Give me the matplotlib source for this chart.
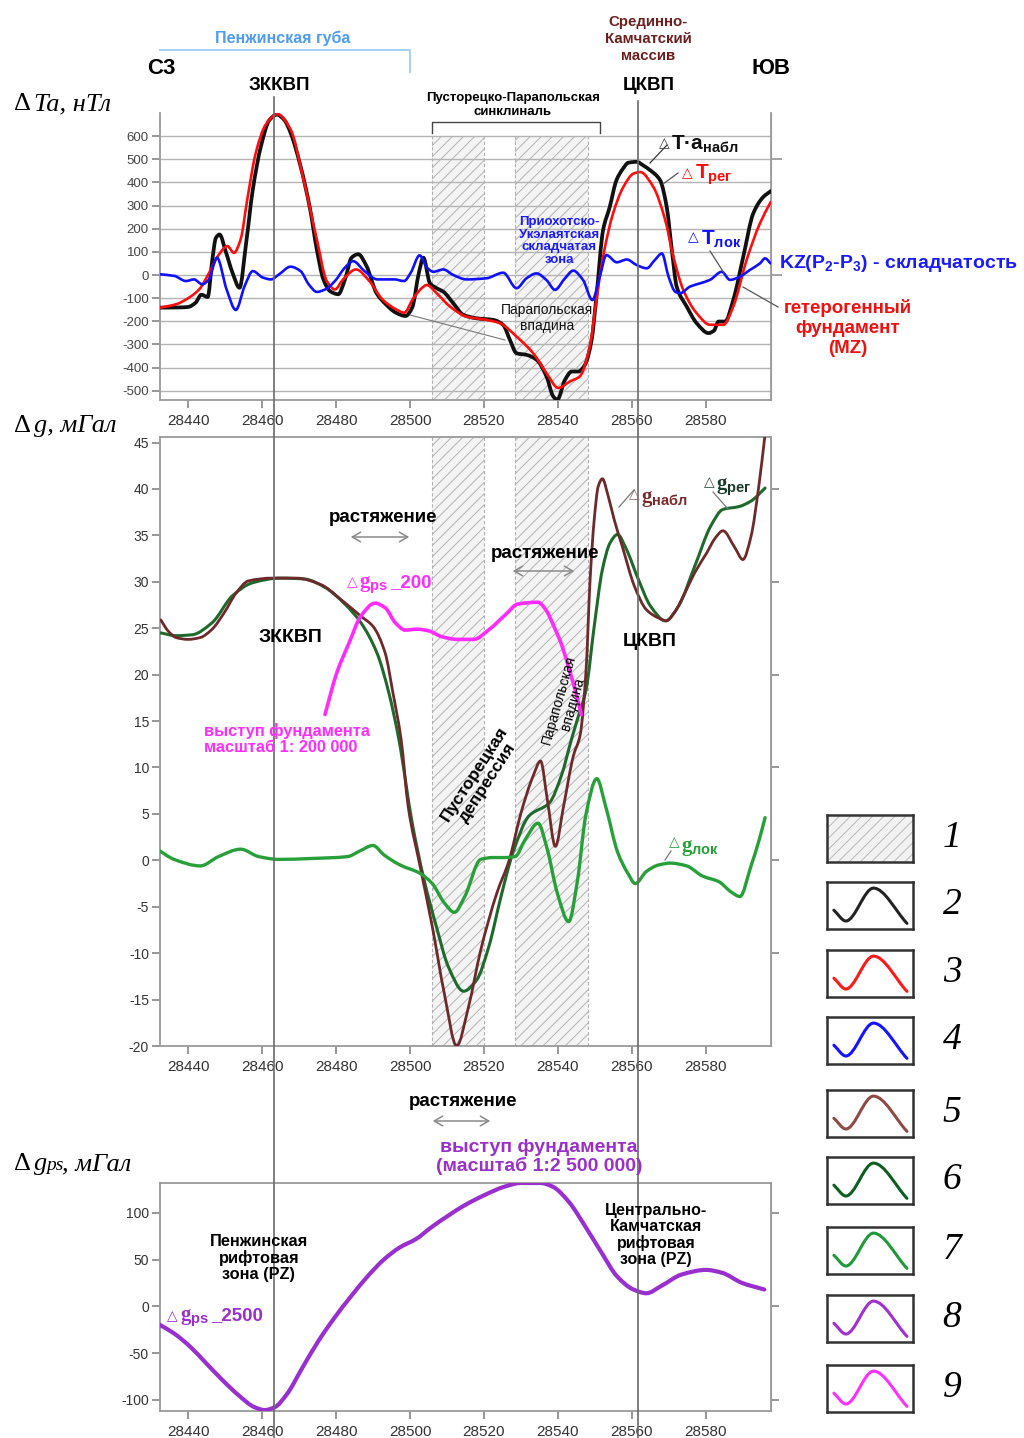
import numpy as np
import matplotlib
matplotlib.use("Agg")
import matplotlib.pyplot as plt
from matplotlib.patches import Rectangle, PathPatch, FancyArrowPatch
from matplotlib.path import Path
from matplotlib.lines import Line2D
import matplotlib.transforms as mtransforms

plt.rcParams['font.family'] = ['Liberation Sans', 'DejaVu Sans']
plt.rcParams['axes.unicode_minus'] = False
plt.rcParams['mathtext.fontset'] = 'custom'
plt.rcParams['mathtext.rm'] = 'Liberation Sans:bold'
plt.rcParams['mathtext.bf'] = 'Liberation Sans:bold'
plt.rcParams['mathtext.it'] = 'Liberation Sans:bold'
plt.rcParams['mathtext.default'] = 'rm'
plt.rcParams['hatch.linewidth'] = 0.7

# ---------------- profile data (picket numbers) ----------------
XTICKS = [28440, 28460, 28480, 28500, 28520, 28540, 28560, 28580]
XLIM = (28432.4, 28597.6)
ZKKVP = 28463.2          # Western Kamchatka volcanic belt axis
TsKVP = 28561.7          # Central Kamchatka volcanic belt axis
BANDS = [(28506.0, 28520.0), (28528.5, 28548.2)]

# magnetic field, nT
mag_obs_x = [28432.5, 28437.7, 28440, 28442, 28443.6, 28445.3, 28446.5, 28447.5, 28448.5, 28450.2,
             28452, 28453.9, 28455.7, 28457.5, 28459.7, 28462, 28464, 28466, 28467.7, 28470.4,
             28473, 28474.8, 28476.6, 28478.4, 28480.6, 28482.4, 28484.2, 28486, 28488.2, 28490.9,
             28493.5, 28496.2, 28498.8, 28500.6, 28502.4, 28503.6, 28505.4, 28507.2, 28509, 28511.7,
             28514.4, 28518, 28522.5, 28525.2, 28527, 28528.8, 28531.5, 28534.2, 28536.9, 28538.7,
             28539.8, 28541.9, 28543.7, 28545.5, 28547.3, 28549.1, 28550.4, 28552.2, 28554, 28555.8,
             28557.6, 28559, 28561.3, 28563, 28564.9, 28567.6, 28569.4, 28570.8, 28572.1, 28574.8,
             28577.5, 28580.7, 28582.2, 28583.4, 28585.2, 28587.4, 28590.1, 28592.8, 28595.5, 28597.5]
mag_obs = [-141, -140, -138, -120, -85, -95, 60, 160, 175, 100,
           10, -55, 140, 370, 557, 670, 693, 670, 615, 470,
           283, 110, -20, -70, -83, -20, 75, 90, 40, -77,
           -127, -163, -177, -140, 10, 75, -36, -57, -72, -122,
           -172, -187, -194, -216, -280, -338, -345, -366, -438, -524,
           -539, -453, -417, -417, -388, -280, -93, 194, 294, 409,
           460, 485, 489, 474, 453, 410, 294, 107, -50, -136,
           -208, -251, -240, -201, -201, -108, 79, 266, 337, 362]

mag_reg_x = [28432.5, 28437, 28439.5, 28443, 28445.7, 28448.4, 28450.6, 28452.4, 28454.2, 28456,
             28458.3, 28461, 28464.1, 28467.7, 28471.2, 28474.8, 28477.5, 28479.7, 28481.9, 28485.4,
             28489, 28492.5, 28496.2, 28498.4, 28500.9, 28503.3, 28504.5, 28507.2, 28510.8, 28515.3,
             28520.7, 28524.3, 28528.8, 28533.3, 28536.9, 28540.1, 28543.2, 28545.9, 28548.6, 28550.4,
             28552.2, 28554.9, 28557.7, 28560.4, 28562.2, 28565.8, 28569, 28571.2, 28573.9, 28577.5,
             28581.1, 28584.7, 28587.4, 28591, 28594.6, 28597.5]
mag_reg = [-141, -125, -105, -62, 10, 90, 125, 96, 154, 327,
           528, 650, 695, 629, 413, 154, -26, -62, -19, 24,
           -26, -105, -148, -163, -100, -55, -43, -79, -136, -180,
           -194, -208, -266, -338, -424, -488, -460, -438, -309, -108,
           79, 266, 381, 438, 445, 380, 237, 79, -65, -165,
           -215, -215, -136, 65, 223, 315]

mag_loc_x = [28432.5, 28436.3, 28439.4, 28441.6, 28443.8, 28445.6, 28447.8, 28450.4, 28452.9, 28455.3,
             28457.5, 28460.2, 28462.4, 28464.6, 28467.7, 28470.4, 28472.6, 28474.8, 28477.1, 28479.7,
             28482.4, 28484.6, 28487.7, 28491.2, 28495.7, 28498.4, 28500.2, 28502.6, 28504.6, 28506.3,
             28509, 28511.7, 28515.3, 28520.7, 28525.2, 28528.8, 28531.5, 28534.2, 28536.9, 28539.2,
             28541.9, 28544.1, 28546.8, 28549.3, 28551.3, 28553.1, 28555.9, 28558.6, 28561.3, 28564,
             28566.2, 28568.1, 28569.9, 28571.7, 28573, 28575.7, 28578.4, 28581.1, 28584.3, 28586.5,
             28589.2, 28591.9, 28594.6, 28596, 28597.5]
mag_loc = [3, -4, -26, -19, -40, -20, 75, -62, -151, -47,
           17, -11, -19, 3, 36, 17, -40, -73, -62, -26,
           32, 60, 17, -19, -19, -26, 10, 85, 32, 14,
           24, 0, -19, -14, 10, -57, -14, 7, -22, -64,
           -14, 19, -22, -108, -7, 86, 55, 67, 43, 29,
           65, 93, -7, -72, -79, -50, -36, -21, 14, -21,
           -7, 22, 50, 72, 50]

# gravity, mGal
grav_obs_x = [28432.6, 28434.6, 28436.7, 28440, 28443.3, 28446.5, 28449.8, 28453, 28456.3, 28462.8,
              28469.3, 28475.9, 28481.3, 28486.7, 28490, 28493.3, 28495.4, 28497.6, 28499.5, 28502.7,
              28506, 28509.3, 28512.6, 28515.8, 28519.1, 28523.5, 28526.8, 28530, 28533.3, 28535.3,
              28537.1, 28539.3, 28541.5, 28544.2, 28546, 28547.6, 28548.7, 28549.8, 28550.9, 28552,
              28553.6, 28555.2, 28557.4, 28560.7, 28563.9, 28567.2, 28569.3, 28571.5, 28574.8, 28577,
              28580.2, 28582.5, 28584.6, 28587.8, 28590, 28592.2, 28594.3, 28596]
grav_obs = [25.9, 24.7, 24.0, 23.8, 24.0, 24.9, 26.7, 28.8, 30.1, 30.4,
            30.4, 29.7, 28.1, 26.3, 25.2, 22.3, 18.0, 13.0, 5.8, -0.6,
            -7.1, -14.4, -20.0, -15.8, -9.7, -3.5, 0.0, 5.1, 9.1, 10.7,
            6.6, 1.5, 5.8, 11.3, 13.5, 20.5, 30.3, 36.7, 40.3, 41.1,
            39.2, 36.7, 33.8, 29.5, 27.0, 26.1, 25.8, 26.7, 29.2, 31.0,
            33.1, 34.7, 35.5, 33.7, 32.4, 34.9, 40.3, 45.9]

grav_reg_x = [28432.6, 28436.7, 28441.1, 28446.5, 28452, 28457.4, 28465, 28471.5, 28477, 28482.4,
              28486.7, 28491.1, 28494.3, 28497, 28500.6, 28503.8, 28507.1, 28510.4, 28514.5, 28518,
              28521.3, 28524.6, 28527.8, 28532.2, 28537.7, 28540.9, 28543.7, 28545.5, 28547.6, 28549.8,
              28552, 28554.1, 28556.1, 28558.5, 28561.7, 28565, 28569.1, 28572.6, 28577, 28581.3,
              28584.6, 28588.9, 28592.2, 28596]
grav_reg = [24.5, 24.2, 24.3, 25.6, 28.5, 29.9, 30.4, 30.3, 29.4, 27.6,
            25.6, 22.3, 18.0, 13.0, 4.0, -2.1, -7.1, -11.5, -14.1, -12.9,
            -9.3, -3.9, 0.8, 4.8, 6.2, 9.1, 13.1, 15.5, 18.4, 25.2,
            31.3, 34.2, 35.1, 33.5, 30.3, 27.4, 25.8, 27.4, 31.7, 36.0,
            37.8, 38.1, 38.7, 40.1]

grav_loc_x = [28432, 28436.2, 28443.3, 28448.2, 28454.2, 28459.1, 28464.6, 28473.3, 28483.1, 28486.4,
              28490, 28492.9, 28497.3, 28502.7, 28506, 28509.3, 28512, 28514.8, 28519.1, 28522.4,
              28525.7, 28528.4, 28531.1, 28534.6, 28537.1, 28539.8, 28542.9, 28545.3, 28547.5, 28550.5,
              28552.9, 28556.2, 28558.9, 28560.9, 28563.9, 28567.2, 28570.4, 28574.8, 28579.1, 28583.5,
              28586.8, 28589.2, 28592.2, 28594.4, 28596]
grav_loc = [1.1, 0.1, -0.6, 0.4, 1.2, 0.4, 0.1, 0.2, 0.4, 1.0,
            1.6, 0.6, -0.5, -1.4, -2.5, -4.6, -5.6, -3.9, 0.1, 0.3,
            0.3, 0.4, 2.2, 4.0, 1.2, -3.5, -6.6, -2.1, 4.8, 8.8,
            5.8, 0.8, -1.4, -2.5, -1.2, -0.5, -0.3, -0.6, -1.7, -2.3,
            -3.4, -3.9, -0.6, 2.2, 4.6]

gps200_x = [28477, 28480.2, 28483.5, 28486.7, 28490.5, 28493.3, 28496, 28498.7, 28502, 28505.2,
            28508.5, 28512.8, 28517.2, 28521.5, 28525.9, 28529.1, 28534.6, 28536.7, 28538.9, 28541.1,
            28543.3, 28544.9, 28546.3]
gps200 = [15.7, 20.2, 23.4, 26.3, 27.7, 27.2, 25.6, 24.8, 24.9, 24.7,
          24.1, 23.8, 23.8, 24.9, 26.5, 27.6, 27.8, 27.0, 25.2, 23.1,
          20.2, 18.0, 15.7]

gps2500_x = [28432, 28436.2, 28440.5, 28444.9, 28449.3, 28453.6, 28458, 28460.7, 28463.4, 28466.7,
             28471, 28475.4, 28479.8, 28484.1, 28488.5, 28492.9, 28497.2, 28501.6, 28505.9, 28510.3,
             28514.7, 28520.1, 28525.5, 28529.9, 28535.3, 28538.6, 28542.9, 28547.3, 28551.7, 28556,
             28560.4, 28563.9, 28568, 28573.4, 28580, 28584.3, 28589.8, 28595.8]
gps2500 = [-19, -29, -43, -61, -79, -95, -108, -111, -108, -94,
           -65, -36, -11, 11, 32, 50, 63, 72, 85, 97,
           108, 119, 128, 132, 132, 128, 112, 86, 58, 32,
           18, 14, 22, 34, 39, 36, 25, 18]

# legend items
LEGEND_NUMS = ['1', '2', '3', '4', '5', '6', '7', '8', '9']
LEGEND_COLORS = [None, '#222222', '#ff1a1a', '#1414ff', '#8e4a44', '#0d5e1f', '#1f9a3a', '#a030d0', '#ff30ff']
ICON_X = [0.08, 0.22, 0.54, 0.93]
ICON_Y = [0.40, 0.17, 0.87, 0.12]

C_OBS, C_REG, C_LOC = '#111111', '#ff0d0d', '#1010ff'
C_GOBS, C_GREG, C_GLOC = '#6e2a2a', '#1d6a2c', '#27a03a'
C_P200, C_P2500 = '#ff2bff', '#9a2fd0'


def smooth_path(xs, ys):
    """Monotone cubic (PCHIP-type) Bezier path passing through every point."""
    x = np.asarray(xs, float)
    y = np.asarray(ys, float)
    h = np.diff(x)
    d = np.diff(y) / h
    m = np.zeros_like(y)
    m[0], m[-1] = d[0], d[-1]
    for i in range(1, len(x) - 1):
        if d[i - 1] * d[i] > 0:
            w1 = 2 * h[i] + h[i - 1]
            w2 = h[i] + 2 * h[i - 1]
            m[i] = (w1 + w2) / (w1 / d[i - 1] + w2 / d[i])
    verts = [(x[0], y[0])]
    codes = [Path.MOVETO]
    for i in range(len(x) - 1):
        verts += [(x[i] + h[i] / 3, y[i] + m[i] * h[i] / 3),
                  (x[i + 1] - h[i] / 3, y[i + 1] - m[i + 1] * h[i] / 3),
                  (x[i + 1], y[i + 1])]
        codes += [Path.CURVE4] * 3
    return Path(verts, codes)


def curve(ax, xs, ys, color, lw, z):
    ax.add_patch(PathPatch(smooth_path(xs, ys), facecolor='none', edgecolor=color, lw=lw,
                           zorder=z, joinstyle='round', capstyle='round'))


# ---------------- figure ----------------
W, H = 1024, 1438
fig = plt.figure(figsize=(W / 100, H / 100), dpi=100)


def fx(px):
    return px / W


def fy(py):
    return 1 - py / H


def rect(l, t, r, b):
    return [l / W, 1 - b / H, (r - l) / W, (b - t) / H]


def T(px, py, s, **kw):
    kw.setdefault('ha', 'center')
    kw.setdefault('va', 'center')
    return fig.text(fx(px), fy(py), s, **kw)


def pline(pts, color='#555555', lw=0.9):
    fig.add_artist(Line2D([fx(p[0]) for p in pts], [fy(p[1]) for p in pts],
                          transform=fig.transFigure, color=color, lw=lw))


def tri(px, py, color, size=9):
    T(px, py, '△', color=color, size=size, family=['DejaVu Sans'])


def arrow(x0, x1, py):
    fig.add_artist(FancyArrowPatch((fx(x0), fy(py)), (fx(x1), fy(py)), transform=fig.transFigure,
                                   arrowstyle='<->,head_length=6,head_width=3.5', color='#8a8a8a',
                                   lw=1.1, zorder=10))


ax1 = fig.add_axes(rect(160, 113, 771, 400))
ax2 = fig.add_axes(rect(160, 437, 771, 1046))
ax3 = fig.add_axes(rect(160, 1183, 771, 1411))

for ax in (ax1, ax2, ax3):
    ax.set_xlim(XLIM)
    ax.set_xticks(XTICKS)
    ax.tick_params(axis='both', direction='out', color='#7a7a7a', length=6, width=1.1,
                   labelcolor='#333333')
    ax.tick_params(axis='x', labelsize=11, pad=4)
    ax.tick_params(axis='y', labelsize=10, pad=2)
    for s in ax.spines.values():
        s.set_color('#9a9a9a')
        s.set_linewidth(1.3)

# ---- magnetic panel ----
ax1.set_ylim(-540, 700)
ax1.set_yticks(list(range(-500, 700, 100)))
ax1.tick_params(axis='y', labelsize=9.5, labelcolor='#444444')
ax1.spines['top'].set_visible(False)
for v in range(-500, 700, 100):
    ax1.axhline(v, color='#b4b4b4', lw=1.0, zorder=0.8)
for x0, x1 in BANDS:
    ax1.add_patch(Rectangle((x0, -540), x1 - x0, 600 + 540, facecolor='#f4f4f4',
                            edgecolor='#b3b3b3', hatch='///', lw=0, zorder=0.5))
    ax1.vlines([x0, x1], -540, 600, colors='#b0b0b0', linestyles=(0, (3, 2)), lw=0.8, zorder=0.6)
curve(ax1, mag_obs_x, mag_obs, C_OBS, 2.7, 3)
curve(ax1, mag_reg_x, mag_reg, C_REG, 1.9, 4)
curve(ax1, mag_loc_x, mag_loc, C_LOC, 1.9, 5)
sec1 = ax1.secondary_yaxis('right')
sec1.set_yticks([0, 500])
sec1.set_yticklabels([])
sec1.tick_params(direction='out', color='#8a8a8a', length=8, width=1.1)
sec1.spines['right'].set_color('#9a9a9a')

# ---- gravity panel ----
ax2.set_ylim(-20, 45.6)
ax2.set_yticks(list(range(-20, 50, 5)))
for x0, x1 in BANDS:
    ax2.add_patch(Rectangle((x0, -20), x1 - x0, 65.6, facecolor='#f4f4f4',
                            edgecolor='#b3b3b3', hatch='///', lw=0, zorder=0.5))
    ax2.vlines([x0, x1], -20, 45.6, colors='#b0b0b0', linestyles=(0, (3, 2)), lw=0.8, zorder=0.6)
curve(ax2, grav_reg_x, grav_reg, C_GREG, 2.2, 3)
curve(ax2, grav_obs_x, grav_obs, C_GOBS, 2.0, 4)
curve(ax2, grav_loc_x, grav_loc, C_GLOC, 2.4, 5)
curve(ax2, gps200_x, gps200, C_P200, 2.6, 6)
sec2 = ax2.secondary_yaxis('right')
sec2.set_yticks([-10, 0, 10, 20, 30, 40])
sec2.set_yticklabels([])
sec2.tick_params(direction='out', color='#7a7a7a', length=6, width=1.1)
sec2.spines['right'].set_color('#9a9a9a')

# ---- pseudo-gravity panel ----
ax3.set_ylim(-112, 132)
ax3.set_yticks([-100, -50, 0, 50, 100])
curve(ax3, gps2500_x, gps2500, C_P2500, 3.0, 4)
sec3 = ax3.secondary_yaxis('right')
sec3.set_yticks([-100, 0, 100])
sec3.set_yticklabels([])
sec3.tick_params(direction='out', color='#7a7a7a', length=6, width=1.1)
sec3.spines['right'].set_color('#9a9a9a')

# volcanic-belt axes crossing all panels
btr = mtransforms.blended_transform_factory(ax1.transData, fig.transFigure)
for xv, top in ((ZKKVP, 97), (TsKVP, 101)):
    fig.add_artist(Line2D([xv, xv], [fy(top), 0], transform=btr, color='#6a6a6a', lw=1.2))

# ---------------- annotations: top ----------------
T(283, 38, 'Пенжинская губа', color='#4f9cf2', size=11.5, weight='bold')
pline([(160, 50), (410, 50), (410, 72)], color='#a4d0f6', lw=1.4)
T(161, 68, 'С3', size=16, weight='bold')
T(279, 86, 'ЗККВП', size=13.5, weight='bold')
T(648, 39, 'Срединно-\nКамчатский\nмассив', color='#6e1e1e', size=10.8, weight='bold', linespacing=1.3)
T(649, 86, 'ЦКВП', size=13.5, weight='bold')
T(771, 68, 'ЮВ', size=16, weight='bold')

T(14, 104, 'Δ', ha='left', family=['Liberation Serif'], size=19)
T(34, 104, 'Ta, нТл', ha='left', family=['Liberation Serif'], style='italic', size=19)

T(513, 105, 'Пусторецко-Парапольская\nсинклиналь', size=9.5, weight='bold', linespacing=1.15)
pline([(432, 133), (432, 122), (600, 122), (600, 133)], color='#444444', lw=1.0)

tri(664, 143, '#444444', 10)
T(671, 144, 'T·a$_{набл}$', ha='left', size=15, weight='bold', color='#111111')
pline([(650, 163), (667, 145)], color='#333333')
tri(687, 173, C_REG, 10)
T(695, 175, 'T$_{рег}$', ha='left', size=15, weight='bold', color=C_REG)
pline([(663, 184), (678, 173)])
tri(693, 237, C_LOC, 10)
T(701, 239, 'T$_{лок}$', ha='left', size=15, weight='bold', color=C_LOC)
pline([(710, 251), (724, 273)])
T(779, 263, 'KZ(P$_{2}$-P$_{3}$) - складчатость', ha='left', size=14, weight='bold', color='#1a1aff')
T(848, 328, 'гетерогенный\nфундамент\n(MZ)', size=13.5, weight='bold', color='#ee1111', linespacing=1.2)
pline([(743, 287), (778, 307)])
T(559, 241, 'Приохотско-\nУкэлаятская\nскладчатая\nзона', size=9.5, weight='bold', color='#1a1aff',
  linespacing=1.1)
T(547, 318, 'Парапольская\nвпадина', size=10, color='#111111', linespacing=1.15)
pline([(410, 315), (505, 340)], color='#777777', lw=0.8)

# ---------------- annotations: middle ----------------
T(14, 426, 'Δ', ha='left', family=['Liberation Serif'], size=19)
T(34, 426, 'g, мГал', ha='left', family=['Liberation Serif'], style='italic', size=19)

T(383, 517, 'растяжение', size=13.5, weight='bold')
arrow(348, 412, 537)
T(545, 553, 'растяжение', size=13.5, weight='bold')
arrow(510, 577, 571)

tri(352, 582, C_P200, 10)
T(359, 585, 'g$_{ps}$', ha='left', size=15, weight='bold', color=C_P200,
  family=['Liberation Serif'])
T(390, 583, '_200', ha='left', size=13.5, weight='bold', color=C_P200)
T(290, 638, 'ЗККВП', size=14, weight='bold')
T(650, 642, 'ЦКВП', size=14, weight='bold')
T(204, 739, 'выступ фундамента\nмасштаб 1: 200 000', ha='left', size=11.8, weight='bold',
  color=C_P200, linespacing=1.1)
T(481, 778, 'Пусторецкая\nдепрессия', rotation=57, size=12.5, weight='bold', linespacing=1.1)
T(566, 702, 'Парапольская\nвпадина', rotation=74, size=10, linespacing=1.05)

tri(634, 494, '#8a6a6a', 10)
T(641, 499, 'g$_{набл}$', ha='left', size=15, weight='bold', color='#7a2a2a',
  family=['Liberation Serif'])
pline([(619, 507), (634, 490)], color='#777777')
tri(709, 482, '#2a4a3a', 10)
T(716, 487, 'g$_{рег}$', ha='left', size=15, weight='bold', color='#1a3a2a',
  family=['Liberation Serif'])
pline([(713, 492), (728, 509)], color='#777777')
tri(674, 842, C_GLOC, 10)
T(681, 848, 'g$_{лок}$', ha='left', size=15, weight='bold', color=C_GLOC,
  family=['Liberation Serif'])
pline([(665, 860), (671, 851)], color='#777777')

# ---------------- annotations: bottom ----------------
T(463, 1101, 'растяжение', size=13.5, weight='bold')
arrow(430, 493, 1121)
T(539, 1157, 'выступ фундамента\n(масштаб 1:2 500 000)', size=14, weight='bold', color='#9b30c8',
  linespacing=1.05)
T(14, 1164, 'Δ', ha='left', family=['Liberation Serif'], size=19)
T(34, 1164, 'g', ha='left', family=['Liberation Serif'], style='italic', size=19)
T(46, 1166, 'ps', ha='left', family=['Liberation Serif'], style='italic', size=14)
T(62, 1164, ', мГал', ha='left', family=['Liberation Serif'], style='italic', size=19)
T(259, 1258, 'Пенжинская\nрифтовая\nзона (PZ)', size=11.8, weight='bold', linespacing=1.1)
T(656, 1235, 'Центрально-\nКамчатская\nрифтовая\nзона (PZ)', size=11.5, weight='bold',
  linespacing=1.1)
tri(172, 1316, C_P2500, 10)
T(180, 1318, 'g$_{ps}$', ha='left', size=15, weight='bold', color=C_P2500,
  family=['Liberation Serif'])
T(211, 1316, '_2500', ha='left', size=13.5, weight='bold', color=C_P2500)

# ---------------- legend ----------------
box_tops = [815, 882, 950, 1017, 1090, 1157, 1227, 1295, 1365]
for num, col, top in zip(LEGEND_NUMS, LEGEND_COLORS, box_tops):
    lax = fig.add_axes(rect(827, top, 913, top + 47))
    lax.set_xlim(0, 1)
    lax.set_ylim(0, 1)
    lax.set_xticks([])
    lax.set_yticks([])
    for s in lax.spines.values():
        s.set_color('#333333')
        s.set_linewidth(1.8)
    if col is None:
        lax.add_patch(Rectangle((0, 0), 1, 1, facecolor='#f2f2f2', edgecolor='#b8b8b8',
                                hatch='///', lw=0))
    else:
        curve(lax, ICON_X, ICON_Y, col, 2.2, 3)
    T(952, top + 23, num, family=['Liberation Serif'], style='italic', size=27)

fig.savefig('out.png', dpi=100)
